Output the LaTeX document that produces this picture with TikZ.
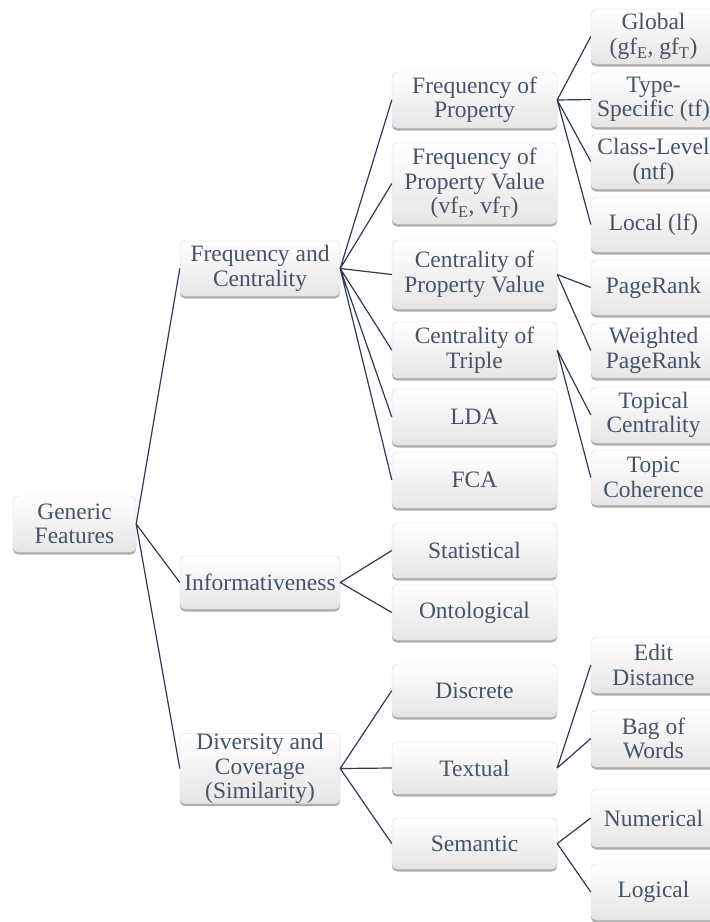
\documentclass[tikz,border=0pt]{standalone}
\usepackage{fontspec}
\setmainfont{Liberation Serif}
\usetikzlibrary{shadows}
\definecolor{textslate}{HTML}{44546A}
\definecolor{linknavy}{HTML}{2E3A56}
\tikzset{
  featbox/.style={rectangle, rounded corners=5pt, draw=gray!30, line width=0.4pt,
    top color=white, bottom color=gray!20, text=textslate, align=center,
    inner sep=0pt, font=\fontsize{23.5}{24.5}\selectfont,
    drop shadow={shadow xshift=0pt, shadow yshift=-2.5pt, opacity=0.45, fill=black!70}},
  link/.style={draw=linknavy, line width=1.2pt},
}
\begin{document}
\begin{tikzpicture}[x=1pt,y=-1pt]
  \useasboundingbox (0,0) rectangle (710,922);
  % root
  \node[featbox, minimum width=123, minimum height=56] (gen) at (74.5,524) {Generic\\Features};
  % first level
  \node[featbox, minimum width=160, minimum height=55] (freqcent) at (260,268.5) {Frequency and\\Centrality};
  \node[featbox, minimum width=160, minimum height=53] (inform) at (260,582.5) {Informativeness};
  \node[featbox, minimum width=160, minimum height=69] (divers) at (260,768.5) {Diversity and\\Coverage\\(Similarity)};
  % second level
  \node[featbox, minimum width=165, minimum height=56] (fprop) at (474.5,100) {Frequency of\\Property};
  \node[featbox, minimum width=165, minimum height=81] (fpval) at (474.5,183.5) {Frequency of\\Property Value\\(vf\textsubscript{E}, vf\textsubscript{T})};
  \node[featbox, minimum width=165, minimum height=69] (cpval) at (474.5,274.5) {Centrality of\\Property Value};
  \node[featbox, minimum width=165, minimum height=56] (ctrip) at (474.5,350) {Centrality of\\Triple};
  \node[featbox, minimum width=165, minimum height=56] (lda) at (474.5,417) {LDA};
  \node[featbox, minimum width=165, minimum height=56] (fca) at (474.5,480) {FCA};
  \node[featbox, minimum width=165, minimum height=55] (stat) at (474.5,550.5) {Statistical};
  \node[featbox, minimum width=165, minimum height=55] (onto) at (474.5,612.5) {Ontological};
  \node[featbox, minimum width=165, minimum height=53] (disc) at (474.5,690.5) {Discrete};
  \node[featbox, minimum width=165, minimum height=52] (textual) at (474.5,768) {Textual};
  \node[featbox, minimum width=165, minimum height=51] (sem) at (474.5,843.5) {Semantic};
  % third level (cut by the right margin)
  \node[featbox, minimum width=125, minimum height=55] (glob) at (653.5,36.5) {Global\\(gf\textsubscript{E}, gf\textsubscript{T})};
  \node[featbox, minimum width=125, minimum height=55] (types) at (653.5,99.5) {Type-\\Specific (tf)};
  \node[featbox, minimum width=125, minimum height=55] (classl) at (653.5,161.5) {Class-Level\\(ntf)};
  \node[featbox, minimum width=125, minimum height=55] (local) at (653.5,224.5) {Local (lf)};
  \node[featbox, minimum width=125, minimum height=55] (pager) at (653.5,287.5) {PageRank};
  \node[featbox, minimum width=125, minimum height=55] (wpager) at (653.5,350.5) {Weighted\\PageRank};
  \node[featbox, minimum width=125, minimum height=56] (topc) at (653.5,415) {Topical\\Centrality};
  \node[featbox, minimum width=125, minimum height=55] (tcoh) at (653.5,477.5) {Topic\\Coherence};
  \node[featbox, minimum width=125, minimum height=56] (edit) at (653.5,665) {Edit\\Distance};
  \node[featbox, minimum width=125, minimum height=57] (bag) at (653.5,738.5) {Bag of\\Words};
  \node[featbox, minimum width=125, minimum height=58] (num) at (653.5,818) {Numerical};
  \node[featbox, minimum width=125, minimum height=56] (logic) at (653.5,892) {Logical};
  % links
  \draw[link] (gen.east) -- (freqcent.west) (gen.east) -- (inform.west) (gen.east) -- (divers.west);
  \draw[link] (freqcent.east) -- (fprop.west) (freqcent.east) -- (fpval.west) (freqcent.east) -- (cpval.west)
              (freqcent.east) -- (ctrip.west) (freqcent.east) -- (lda.west) (freqcent.east) -- (fca.west);
  \draw[link] (inform.east) -- (stat.west) (inform.east) -- (onto.west);
  \draw[link] (divers.east) -- (disc.west) (divers.east) -- (textual.west) (divers.east) -- (sem.west);
  \draw[link] (fprop.east) -- (glob.west) (fprop.east) -- (types.west) (fprop.east) -- (classl.west) (fprop.east) -- (local.west);
  \draw[link] (cpval.east) -- (pager.west) (cpval.east) -- (wpager.west);
  \draw[link] (ctrip.east) -- (topc.west) (ctrip.east) -- (tcoh.west);
  \draw[link] (textual.east) -- (edit.west) (textual.east) -- (bag.west);
  \draw[link] (sem.east) -- (num.west) (sem.east) -- (logic.west);
\end{tikzpicture}
\end{document}
